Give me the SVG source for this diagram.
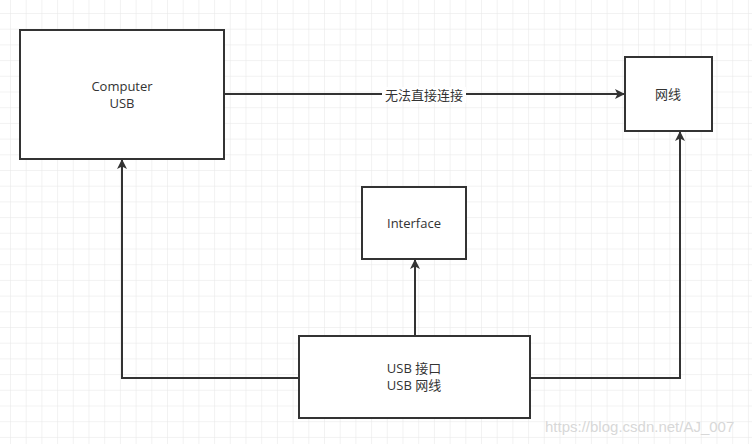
<svg xmlns="http://www.w3.org/2000/svg" width="752" height="444" viewBox="0 0 752 444">
<defs>
<pattern id="g" x="10" y="13" width="15.7" height="15.7" patternUnits="userSpaceOnUse"><path d="M0 0H15.7M0 0V15.7" fill="none" stroke="#e6e6e6" stroke-width="1"/></pattern>
<marker id="a" viewBox="0 0 10 10" refX="9" refY="5" markerWidth="10" markerHeight="10" markerUnits="userSpaceOnUse" orient="auto"><path d="M0 0L10 5L0 10L2.5 5Z" fill="#333"/></marker>
<style>.b{fill:#fff;stroke:#333;stroke-width:2}.t{font-family:"Open Sans","Noto Sans CJK SC",sans-serif;font-size:13px;fill:#333;text-anchor:middle}.c{fill:none;stroke:#333;stroke-width:2;marker-end:url(#a)}</style>
</defs>
<rect width="752" height="444" fill="#fff"/>
<rect width="752" height="444" fill="url(#g)"/>
<g id="connectors">
<path class="c" d="M224 94H624"/>
<path class="c" d="M299 378H122V160"/>
<path class="c" d="M530 378H680V132"/>
<path class="c" d="M415 336V260"/>
<rect x="382" y="87" width="84" height="16" fill="#fff"/>
<text class="t" x="424" y="100">无法直接连接</text>
</g>
<g id="computer"><rect class="b" x="20" y="30" width="204" height="129"/><text class="t" x="122" y="91">Computer</text><text class="t" x="122" y="108">USB</text></g>
<g id="wangxian"><rect class="b" x="625" y="57" width="87" height="74"/><text class="t" x="668" y="99">网线</text></g>
<g id="interface"><rect class="b" x="362" y="187" width="104" height="72"/><text class="t" x="414" y="228">Interface</text></g>
<g id="usb"><rect class="b" x="299" y="336" width="231" height="82"/><text class="t" x="414" y="373">USB  接口</text><text class="t" x="414" y="390">USB  网线</text></g>
<text x="545" y="432" font-family="Liberation Sans,sans-serif" font-size="15" fill="#d8d8d8">https://blog.csdn.net/AJ_007</text>
</svg>
